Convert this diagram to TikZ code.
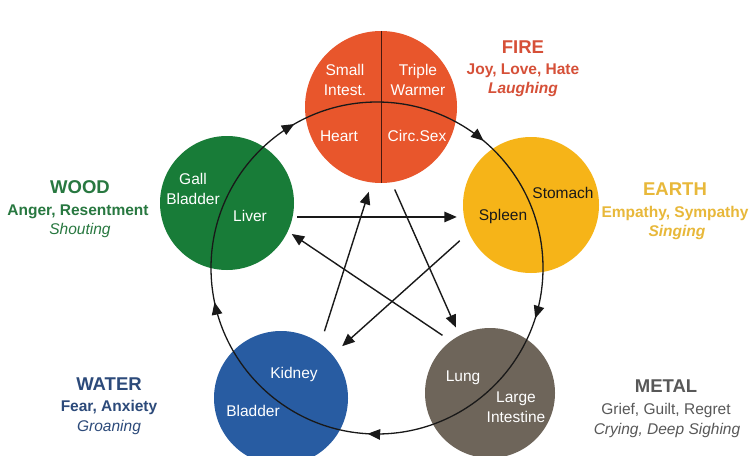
\documentclass[tikz,border=0pt]{standalone}
\usepackage{fontspec}
\setmainfont{Liberation Sans}
\usetikzlibrary{arrows.meta,decorations.markings}

% element fills
\definecolor{firec}{RGB}{232,86,44}
\definecolor{earthc}{RGB}{246,180,24}
\definecolor{woodc}{RGB}{24,124,56}
\definecolor{waterc}{RGB}{40,92,162}
\definecolor{metalc}{RGB}{110,101,90}
% caption colours
\definecolor{firetxt}{RGB}{214,80,56}
\definecolor{earthtxt}{RGB}{232,184,58}
\definecolor{woodtxt}{RGB}{40,120,64}
\definecolor{watertxt}{RGB}{44,74,122}
\definecolor{metaltxt}{RGB}{88,88,88}
\definecolor{inkc}{RGB}{25,25,25}
\definecolor{splitc}{RGB}{70,25,15}

\tikzset{cyctip/.tip={Triangle[length=12.5pt,width=10.5pt]}}

\begin{document}
\begin{tikzpicture}[x=1pt,y=-1pt,
  element/.style={circle,inner sep=0pt,draw=none},
  organ/.style={text=white,align=center,font=\fontsize{15.5}{19.5}\selectfont},
  eltitle/.style={anchor=base,font=\bfseries\fontsize{18.5}{20}\selectfont},
  feeling/.style={anchor=base,font=\bfseries\fontsize{15.5}{18}\selectfont},
  sound/.style={anchor=base,font=\itshape\fontsize{15.5}{18}\selectfont},
  ctrlarrow/.style={draw=inkc,line width=1.4pt,-cyctip},
]
\useasboundingbox (0,0) rectangle (751,455);
\fill[white] (0,0) rectangle (751,455);
\clip (0,0) rectangle (751,455);

% the five element discs
\node[element,fill=firec,minimum size=152pt]  (fire)  at (381,107) {};
\node[element,fill=earthc,minimum size=136pt] (earth) at (531,205) {};
\node[element,fill=metalc,minimum size=130pt] (metal) at (490,393) {};
\node[element,fill=waterc,minimum size=134pt] (water) at (281,398) {};
\node[element,fill=woodc,minimum size=134pt]  (wood)  at (227,203) {};

% fire is split into four organs
\draw[splitc,line width=0.9pt] (fire.north) -- (fire.south);

% generating cycle
\coordinate (hub) at (377,268);
\draw[inkc,line width=1.3pt,postaction={decorate},
  decoration={markings,
    mark=at position 0.049 with {\arrow{cyctip}},
    mark=at position 0.259 with {\arrow{cyctip}},
    mark=at position 0.467 with {\arrow{cyctip}},
    mark=at position 0.667 with {\arrow{cyctip}},
    mark=at position 0.861 with {\arrow{cyctip}}}]
  (hub) circle[radius=166];

% controlling star
\draw[ctrlarrow,shorten <=4.5pt,shorten >=6pt] (wood.-12) -- (wood.-12 -| earth.west);
\draw[ctrlarrow,shorten <=10pt,shorten >=4.6pt] (metal.127) -- (wood.-25);
\draw[ctrlarrow,shorten <=13pt,shorten >=9.7pt] (water.54) -- (fire.-97.4);
\draw[ctrlarrow,shorten <=7.7pt,shorten >=8.8pt] (fire.-82.5) -- (metal.118);
\draw[ctrlarrow,shorten <=12pt,shorten >=13pt] (earth.204.3) -- (water.40.5);

% organ names
\node[organ] (sint)  at (345,80) {Small\\Intest.};
\node[organ] (tw)    at (418,80) {Triple\\Warmer};
\node[organ,anchor=base] (heart) at (339,141) {Heart};
\node[organ,anchor=base] (circ)  at (417,141) {Circ.Sex};
\node[organ,text=inkc,anchor=base] (stom) at (563,198) {Stomach};
\node[organ,text=inkc,anchor=base] (spl)  at (503,220) {Spleen};
\node[organ] (gb)    at (193,189) {Gall\\Bladder};
\node[organ,anchor=base] (liv) at (250,221) {Liver};
\node[organ,anchor=base] (lung) at (463,381) {Lung};
\node[organ] (li)    at (516,407) {Large\\Intestine};
\node[organ,anchor=base] (kid) at (294,378) {Kidney};
\node[organ,anchor=base] (bla) at (253,416) {Bladder};

% element captions
\node[eltitle,text=firetxt] (firet) at (523,53) {FIRE};
\node[feeling,text=firetxt] (firef) at (523,74) {Joy, Love, Hate};
\node[sound,text=firetxt,font=\bfseries\itshape\fontsize{15.5}{18}\selectfont] (fires) at (523,93) {Laughing};

\node[eltitle,text=earthtxt] (eartht) at (675,195) {EARTH};
\node[feeling,text=earthtxt] (earthf) at (675,217) {Empathy, Sympathy};
\node[sound,text=earthtxt,font=\bfseries\itshape\fontsize{15.5}{18}\selectfont] (earths) at (677,236) {Singing};

\node[eltitle,text=woodtxt] (woodt) at (80,193) {WOOD};
\node[feeling,text=woodtxt] (woodf) at (78,215) {Anger, Resentment};
\node[sound,text=woodtxt] (woods) at (80,234) {Shouting};

\node[eltitle,text=watertxt] (watert) at (109,390) {WATER};
\node[feeling,text=watertxt] (waterf) at (109,411) {Fear, Anxiety};
\node[sound,text=watertxt] (waters) at (109,431) {Groaning};

\node[eltitle,text=metaltxt] (metalt) at (666,392) {METAL};
\node[feeling,text=metaltxt,font=\fontsize{15.5}{18}\selectfont] (metalf) at (666,414) {Grief, Guilt, Regret};
\node[sound,text=metaltxt] (metals) at (667,434) {Crying, Deep Sighing};
\end{tikzpicture}
\end{document}
